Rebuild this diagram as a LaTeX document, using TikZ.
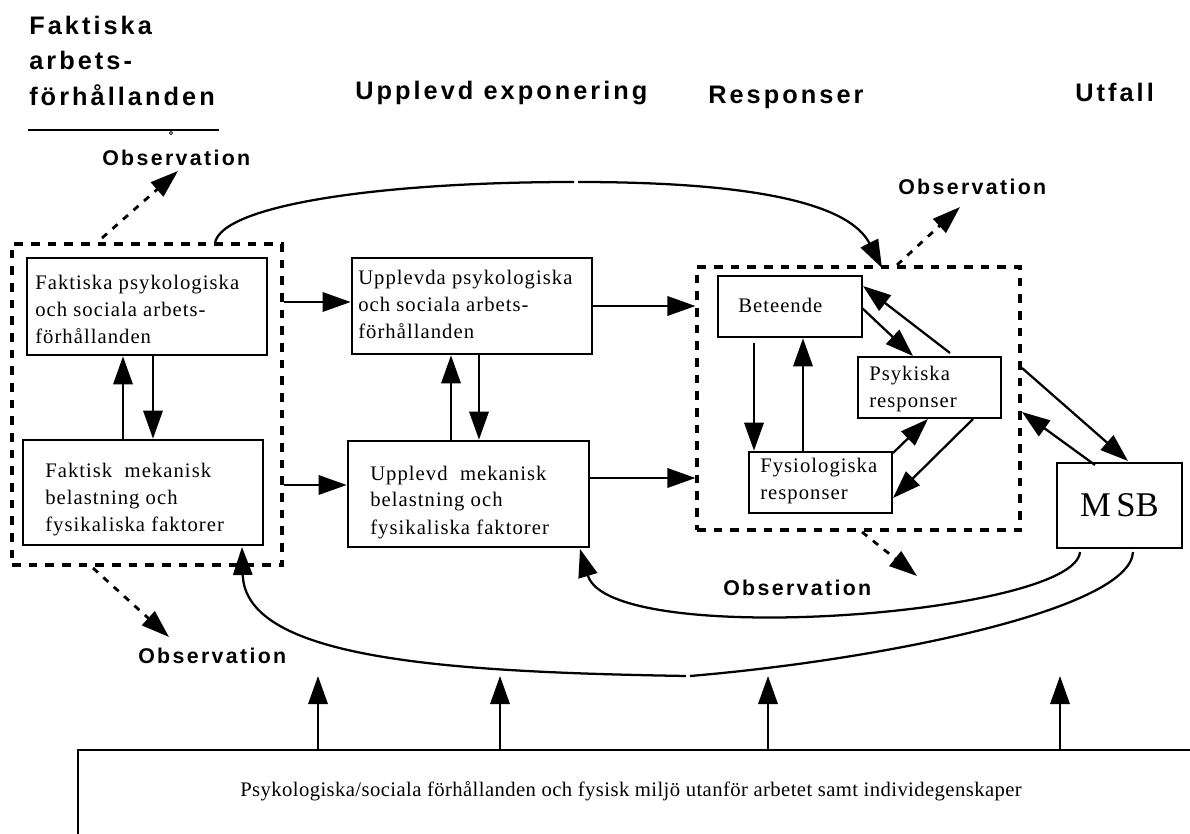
\documentclass[tikz,border=0pt]{standalone}
\usepackage{fontspec}
\setmainfont{Liberation Serif}
\newfontfamily\headfont{Liberation Sans}[LetterSpace=12]
\newfontfamily\obsfont{Liberation Sans}[LetterSpace=11]
\newfontfamily\boxfont{Liberation Serif}[LetterSpace=5]
\newfontfamily\basefont{Liberation Serif}[LetterSpace=2]
\usetikzlibrary{arrows.meta}

\begin{document}
\begin{tikzpicture}[x=0.75pt,y=-0.75pt,
  conn/.style={line width=1.7pt},
  tip/.style={-{Triangle[length=21pt,width=14.5pt]}},
  blk/.style 2 args={draw, line width=2pt, inner sep=0pt,
    minimum width=#1*0.75pt, minimum height=#2*0.75pt},
  grp/.style 2 args={draw, line width=2.3pt, dash pattern=on 6.5pt off 6pt,
    inner sep=0pt, minimum width=#1*0.75pt, minimum height=#2*0.75pt},
  hd/.style={font=\headfont\bfseries\fontsize{19}{26.6}\selectfont,
    anchor=base west, inner sep=0pt},
  obs/.style={font=\obsfont\bfseries\fontsize{16}{18}\selectfont,
    anchor=base west, inner sep=0pt},
  txt/.style={font=\boxfont\fontsize{15.5}{20.25}\selectfont,
    anchor=base west, inner sep=0pt},
  obsarrow/.style={line width=2.1pt, dash pattern=on 5pt off 5.5pt,
    -{Triangle[length=21pt,width=14pt]}}
]
\useasboundingbox (0,0) rectangle (1190,834);
\clip (0,0) rectangle (1190,834);

% ---------- column headings ----------
\node[hd] (hFak) at (29,34.5)
  {\begin{tabular}[t]{@{}l@{}}Faktiska\\arbets-\\förhållanden\end{tabular}};
\node[hd] (hUpp) at (355,100) {Upplevd exponering};
\node[hd] (hRes) at (708,104) {Responser};
\node[hd] (hUtf) at (1075,102) {Utfall};
\draw[line width=0.8pt] (28,130) -- (219,130);
\draw[line width=0.6pt] (171,133) circle (1.6);

% ---------- groups and boxes ----------
\node[grp={270}{321}] (grpL) at (147,404.5) {};
\node[grp={323}{263}] (grpR) at (858.5,398.5) {};

\node[blk={240}{97}]  (b1) at (147,306.5) {};
\node[blk={240}{105}] (b2) at (143,492.5) {};
\node[blk={240}{96}]  (b3) at (472,306) {};
\node[blk={241}{106}] (b4) at (468.5,494) {};
\node[blk={144}{61}]  (bet) at (790,306.5) {};
\node[blk={143}{61}]  (psy) at (929.5,387.5) {};
\node[blk={143}{61}]  (fys) at (820.5,482.5) {};
\node[blk={125}{85}, font=\fontsize{26}{30}\selectfont] (msb) at (1119.5,505.5)
  {M\hspace{4pt}SB};
\node[draw, line width=2.2pt, inner sep=0pt, minimum width=1152*0.75pt,
  minimum height=130*0.75pt] (env) at (654,815) {};

% ---------- box texts ----------
\node[txt] (t1) at (35,290)
  {\begin{tabular}[t]{@{}l@{}}Faktiska psykologiska\\och sociala arbets-\\förhållanden\end{tabular}};
\node[txt] (t2) at (45,478)
  {\begin{tabular}[t]{@{}l@{}}Faktisk\ \ mekanisk\\belastning och\\fysikaliska faktorer\end{tabular}};
\node[txt] (t3) at (358,285)
  {\begin{tabular}[t]{@{}l@{}}Upplevda psykologiska\\och sociala arbets-\\förhållanden\end{tabular}};
\node[txt] (t4) at (370,480)
  {\begin{tabular}[t]{@{}l@{}}Upplevd\ \ mekanisk\\belastning och\\fysikaliska faktorer\end{tabular}};
\node[txt] (t5) at (738,313) {Beteende};
\node[txt] (t6) at (869,381)
  {\begin{tabular}[t]{@{}l@{}}Psykiska\\responser\end{tabular}};
\node[txt] (t7) at (760,473)
  {\begin{tabular}[t]{@{}l@{}}Fysiologiska\\responser\end{tabular}};
\node[font=\basefont\fontsize{15.5}{18}\selectfont, anchor=base, inner sep=0pt]
  (t8) at (631,796)
  {Psykologiska/sociala förhållanden och fysisk miljö utanför arbetet samt individegenskaper};

% ---------- observation labels ----------
\node[obs] (o1) at (102,166) {Observation};
\node[obs] (o2) at (898,195) {Observation};
\node[obs] (o3) at (723,595) {Observation};
\node[obs] (o4) at (138,663) {Observation};

% ---------- helper coordinates ----------
\coordinate (xa) at (123,0);
\coordinate (xb) at (153,0);
\coordinate (xc) at (451,0);
\coordinate (xd) at (479,0);
\coordinate (xe) at (754,0);
\coordinate (xf) at (803,0);
\coordinate (r1) at (0,302);
\coordinate (r2) at (0,485);
\coordinate (r3) at (0,306);
\coordinate (r4) at (0,478);

% ---------- vertical pairs ----------
\draw[conn,tip] (b2.north -| xa) -- (b1.south -| xa);
\draw[conn,tip] (b1.south -| xb) -- (b2.north -| xb);
\draw[conn,tip] (b4.north -| xc) -- (b3.south -| xc);
\draw[conn,tip] (b3.south -| xd) -- (b4.north -| xd);
\coordinate (e1) at (754,343);
\draw[conn,tip] (e1) -- (fys.north -| xe);
\draw[conn,tip] (fys.north -| xf) -- (bet.south -| xf);

% ---------- left to right ----------
\draw[conn,tip] (grpL.east |- r1) -- (b3.west |- r1);
\draw[conn,tip] (grpL.east |- r2) -- (b4.west |- r2);
\draw[conn,tip] (b3.east |- r3) -- (grpR.west |- r3);
\draw[conn,tip] (b4.east |- r4) -- (grpR.west |- r4);

% ---------- responses ----------
\coordinate (p1) at (862,308);  \coordinate (p2) at (913,356);
\coordinate (p3) at (950,353);  \coordinate (p4) at (863,286);
\coordinate (p5) at (893,453);  \coordinate (p6) at (928,419);
\coordinate (p7) at (973,419);  \coordinate (p8) at (893,498);
\draw[conn,tip] (p1) -- (p2);
\draw[conn,tip] (p3) -- (p4);
\draw[conn,tip] (p5) -- (p6);
\draw[conn,tip] (p7) -- (p8);

% ---------- to and from MSB ----------
\coordinate (m1) at (1022,368); \coordinate (m2) at (1128,461);
\coordinate (m3) at (1095,465); \coordinate (m4) at (1022,412);
\draw[conn,tip] (m1) -- (m2);
\draw[conn,tip] (m3) -- (m4);

% ---------- feedback curves ----------
\coordinate (c1) at (215,243);
\coordinate (c2) at (574,182);
\coordinate (c3) at (578,182);
\coordinate (c4) at (882,268);
\draw[conn] (c1) .. controls (222,205) and (380,182) .. (c2);
\draw[conn,tip] (c3) .. controls (760,182) and (850,205) .. (c4);

\coordinate (d1) at (1080,552);
\coordinate (d2) at (580,549);
\draw[conn,tip] (d1) .. controls (1075,615) and (610,650) .. (d2);

\coordinate (f1) at (1133,552);
\coordinate (f2) at (690,676);
\coordinate (f3) at (686,676);
\coordinate (f4) at (242,547);
\draw[conn] (f1) .. controls (1130,610) and (880,660) .. (f2);
\draw[conn,tip] (f3) .. controls (450,672) and (245,660) .. (f4);

% ---------- observation arrows ----------
\coordinate (s1) at (102,238); \coordinate (s2) at (178,171);
\coordinate (s3) at (897,265); \coordinate (s4) at (960,207);
\coordinate (s5) at (862,532); \coordinate (s6) at (917,576);
\coordinate (s7) at (93,568);  \coordinate (s8) at (169,637);
\draw[obsarrow] (s1) -- (s2);
\draw[obsarrow] (s3) -- (s4);
\draw[obsarrow] (s5) -- (s6);
\draw[obsarrow] (s7) -- (s8);

% ---------- outside influences ----------
\coordinate (g1) at (318,676);
\coordinate (g2) at (500,676);
\coordinate (g3) at (768,676);
\coordinate (g4) at (1060,676);
\draw[conn,tip] (env.north -| g1) -- (g1);
\draw[conn,tip] (env.north -| g2) -- (g2);
\draw[conn,tip] (env.north -| g3) -- (g3);
\draw[conn,tip] (env.north -| g4) -- (g4);
\end{tikzpicture}
\end{document}
